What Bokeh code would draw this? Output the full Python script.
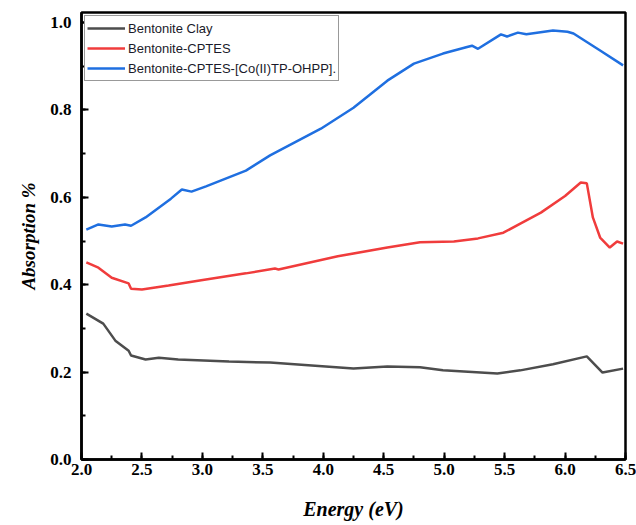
from bokeh.plotting import figure
from bokeh.models import Range1d, NumeralTickFormatter, Legend, LegendItem
from bokeh.embed import file_html
from bokeh.resources import INLINE

# Bentonite Clay
clay_x = [2.04, 2.18, 2.28, 2.39, 2.41, 2.53, 2.64, 2.80, 3.22, 3.56, 4.25, 4.53, 4.80, 4.99,
          5.44, 5.63, 5.90, 6.18, 6.31, 6.48]
clay_y = [0.334, 0.311, 0.272, 0.249, 0.238, 0.229, 0.233, 0.229, 0.224, 0.222, 0.208, 0.213,
          0.211, 0.204, 0.197, 0.204, 0.218, 0.236, 0.199, 0.208]

# Bentonite-CPTES
cptes_x = [2.04, 2.14, 2.25, 2.39, 2.41, 2.50, 2.72, 2.99, 3.36, 3.60, 3.63, 4.12, 4.53, 4.80,
           5.08, 5.28, 5.49, 5.63, 5.80, 6.00, 6.13, 6.18, 6.23, 6.29, 6.37, 6.43, 6.48]
cptes_y = [0.451, 0.439, 0.416, 0.403, 0.391, 0.389, 0.398, 0.410, 0.426, 0.437, 0.435, 0.465,
           0.485, 0.497, 0.499, 0.506, 0.519, 0.540, 0.565, 0.603, 0.634, 0.632, 0.554, 0.508,
           0.485, 0.499, 0.494]

# Bentonite-CPTES-[Co(II)TP-OHPP].
co_x = [2.04, 2.14, 2.25, 2.36, 2.41, 2.53, 2.74, 2.83, 2.91, 3.03, 3.36, 3.56, 3.98, 4.25,
        4.53, 4.75, 4.99, 5.19, 5.23, 5.28, 5.47, 5.52, 5.61, 5.68, 5.90, 6.02, 6.07, 6.29, 6.48]
co_y = [0.526, 0.538, 0.533, 0.538, 0.535, 0.554, 0.597, 0.618, 0.613, 0.625, 0.661, 0.696,
        0.757, 0.805, 0.867, 0.906, 0.929, 0.944, 0.947, 0.940, 0.973, 0.968, 0.977, 0.973,
        0.982, 0.979, 0.975, 0.936, 0.902]

labels = ["Bentonite Clay", "Bentonite-CPTES", "Bentonite-CPTES-[Co(II)TP-OHPP]."]
colors = ["#4d4d4d", "#f03c3c", "#1f6fe0"]

p = figure(width=636, height=525, output_backend="svg", toolbar_location=None,
           x_range=Range1d(2.0, 6.5), y_range=Range1d(0.0, 1.023),
           min_border_left=81, min_border_right=11, min_border_top=12, min_border_bottom=66)

p.background_fill_color = "white"
p.border_fill_color = "white"
p.grid.visible = False
p.outline_line_color = "black"
p.outline_line_width = 2.5
p.outline_line_alpha = 1.0

r1 = p.line(clay_x, clay_y, line_color=colors[0], line_width=2.5)
r2 = p.line(cptes_x, cptes_y, line_color=colors[1], line_width=2.5)
r3 = p.line(co_x, co_y, line_color=colors[2], line_width=2.5)

for ax in (p.xaxis[0], p.yaxis[0]):
    ax.axis_line_width = 2.5
    ax.axis_line_color = "black"
    ax.major_tick_in = 7
    ax.major_tick_out = 0
    ax.minor_tick_in = 4
    ax.minor_tick_out = 0
    ax.major_tick_line_width = 2
    ax.minor_tick_line_width = 2
    ax.major_label_text_font = "Liberation Serif"
    ax.major_label_text_font_style = "bold"
    ax.major_label_text_font_size = "17px"
    ax.major_label_text_color = "black"
    ax.axis_label_text_font = "Liberation Serif"
    ax.axis_label_text_font_style = "bold italic"
    ax.axis_label_text_color = "black"

p.xaxis.ticker.desired_num_ticks = 10
p.xaxis[0].ticker.num_minor_ticks = 2
p.yaxis[0].ticker.num_minor_ticks = 2
p.xaxis.axis_label = "Energy (eV)"
p.xaxis.axis_label_text_font_size = "20px"
p.xaxis.axis_label_standoff = 20
p.yaxis.axis_label = "Absorption %"
p.yaxis.axis_label_text_font_size = "19px"
p.yaxis.axis_label_standoff = 8
p.xaxis.formatter = NumeralTickFormatter(format="0.0")
p.yaxis.formatter = NumeralTickFormatter(format="0.0")
p.xaxis.major_label_standoff = 4
p.yaxis.major_label_standoff = 10

legend = Legend(items=[LegendItem(label=labels[0], renderers=[r1]),
                       LegendItem(label=labels[1], renderers=[r2]),
                       LegendItem(label=labels[2], renderers=[r3])],
                location="top_left")
legend.label_text_font = "Liberation Sans"
legend.label_text_font_size = "13px"
legend.label_text_color = "#1a1a2a"
legend.glyph_width = 38
legend.glyph_height = 20
legend.label_height = 20
legend.spacing = 0
legend.padding = 2
legend.margin = 3
legend.label_standoff = 3
legend.border_line_color = "#333333"
legend.border_line_width = 1
legend.background_fill_alpha = 1.0
p.add_layout(legend)

open("out.html", "w").write(file_html(p, INLINE))
